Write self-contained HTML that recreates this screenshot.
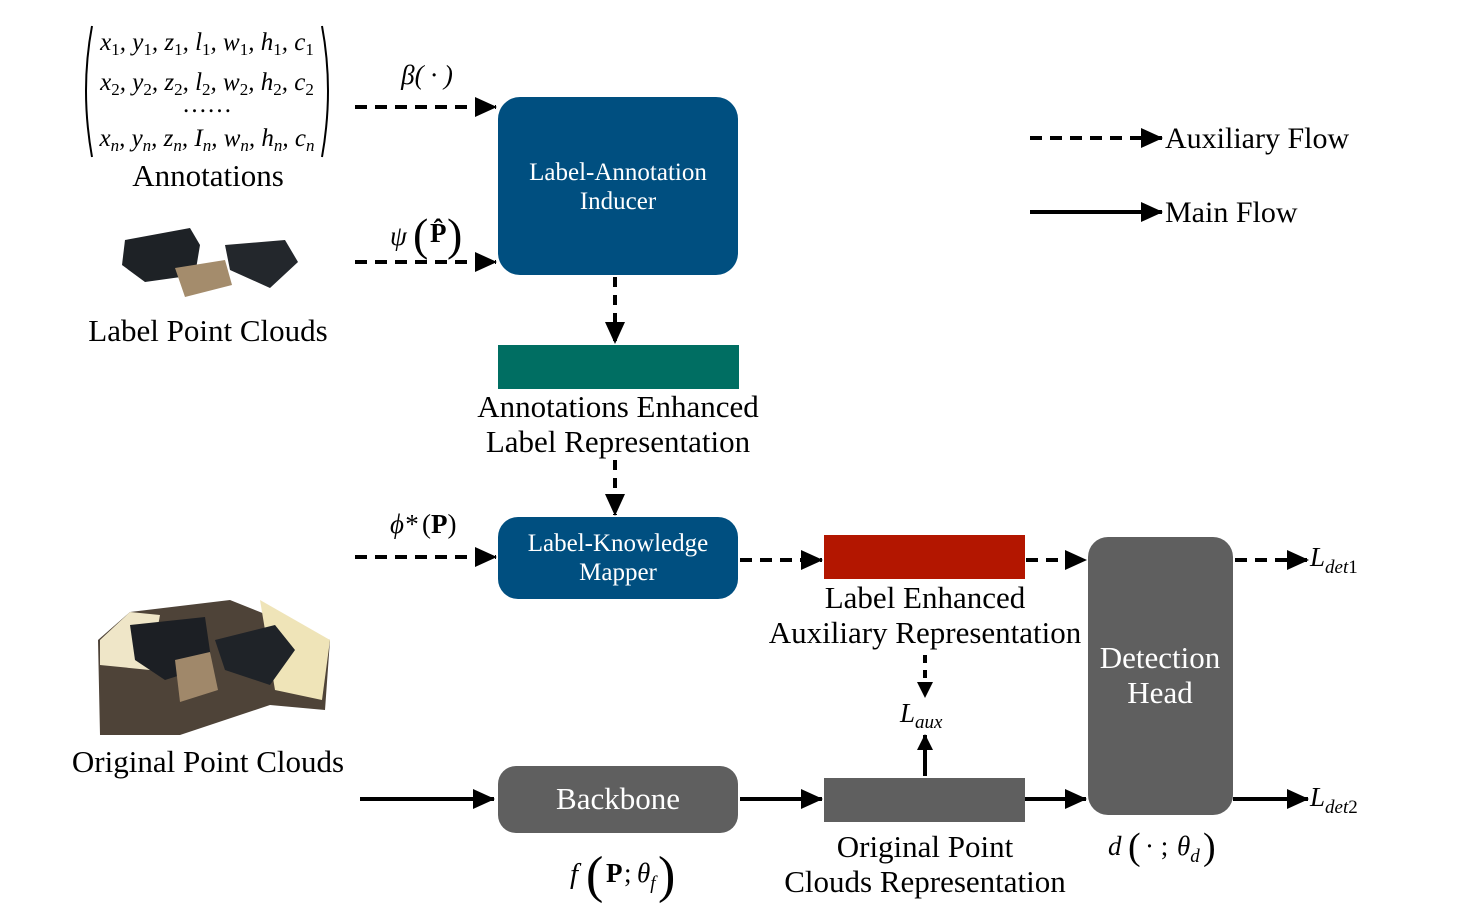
<!DOCTYPE html>
<html><head><meta charset="utf-8"><style>
html,body{margin:0;padding:0;background:#fff;}
svg{display:block;font-family:"Liberation Serif",serif;}
</style></head><body>
<svg width="1472" height="909" viewBox="0 0 1472 909" xmlns="http://www.w3.org/2000/svg">
<defs>
<marker id="ahb" markerWidth="22" markerHeight="20" refX="21" refY="10" orient="auto" markerUnits="userSpaceOnUse" viewBox="0 0 22 20">
<path d="M0,0 L22,10 L0,20 z" fill="#000"/></marker>
<marker id="ahs" markerWidth="16" markerHeight="16" refX="15" refY="8" orient="auto" markerUnits="userSpaceOnUse" viewBox="0 0 16 16">
<path d="M0,0 L16,8 L0,16 z" fill="#000"/></marker>
</defs>

<!-- Annotations matrix -->
<path d="M92,26 Q80,90 92,157" fill="none" stroke="#000" stroke-width="2"/>
<path d="M322,26 Q334,90 322,157" fill="none" stroke="#000" stroke-width="2"/>
<g font-style="italic" font-size="25" text-anchor="middle">
<text x="207" y="50">x<tspan font-size="17" dy="5" font-style="normal">1</tspan><tspan dy="-5">, y</tspan><tspan font-size="17" dy="5" font-style="normal">1</tspan><tspan dy="-5">, z</tspan><tspan font-size="17" dy="5" font-style="normal">1</tspan><tspan dy="-5">, l</tspan><tspan font-size="17" dy="5" font-style="normal">1</tspan><tspan dy="-5">, w</tspan><tspan font-size="17" dy="5" font-style="normal">1</tspan><tspan dy="-5">, h</tspan><tspan font-size="17" dy="5" font-style="normal">1</tspan><tspan dy="-5">, c</tspan><tspan font-size="17" dy="5" font-style="normal">1</tspan></text>
<text x="207" y="90">x<tspan font-size="17" dy="5" font-style="normal">2</tspan><tspan dy="-5">, y</tspan><tspan font-size="17" dy="5" font-style="normal">2</tspan><tspan dy="-5">, z</tspan><tspan font-size="17" dy="5" font-style="normal">2</tspan><tspan dy="-5">, l</tspan><tspan font-size="17" dy="5" font-style="normal">2</tspan><tspan dy="-5">, w</tspan><tspan font-size="17" dy="5" font-style="normal">2</tspan><tspan dy="-5">, h</tspan><tspan font-size="17" dy="5" font-style="normal">2</tspan><tspan dy="-5">, c</tspan><tspan font-size="17" dy="5" font-style="normal">2</tspan></text>
<text x="207" y="112" font-style="normal">……</text>
<text x="207" y="146">x<tspan font-size="17" dy="5">n</tspan><tspan dy="-5">, y</tspan><tspan font-size="17" dy="5">n</tspan><tspan dy="-5">, z</tspan><tspan font-size="17" dy="5">n</tspan><tspan dy="-5">, I</tspan><tspan font-size="17" dy="5">n</tspan><tspan dy="-5">, w</tspan><tspan font-size="17" dy="5">n</tspan><tspan dy="-5">, h</tspan><tspan font-size="17" dy="5">n</tspan><tspan dy="-5">, c</tspan><tspan font-size="17" dy="5">n</tspan></text>
</g>
<text x="208" y="186" font-size="31" text-anchor="middle">Annotations</text>

<!-- label point cloud (sketch) -->
<g>
<polygon points="125,240 190,228 200,245 195,275 145,282 122,265" fill="#1e2226"/>
<polygon points="225,245 285,240 298,262 270,288 230,270" fill="#23272c"/>
<polygon points="175,268 225,260 232,285 185,297" fill="#a48c6c"/>
</g>
<text x="208" y="341" font-size="31" text-anchor="middle">Label Point Clouds</text>

<!-- original point cloud (sketch) -->
<g>
<polygon points="98,640 130,612 230,600 330,640 325,710 270,705 180,735 100,735" fill="#4e4338"/>
<polygon points="100,640 130,612 160,615 150,670 100,665" fill="#efe6c8"/>
<polygon points="260,600 330,640 322,700 275,690" fill="#efe4b8"/>
<polygon points="130,625 205,617 212,665 165,680 135,660" fill="#1c1f24"/>
<polygon points="215,640 275,625 295,650 270,685 225,670" fill="#1f2328"/>
<polygon points="175,660 210,652 218,690 180,702" fill="#a0886a"/>
</g>
<text x="208" y="772" font-size="31" text-anchor="middle">Original Point Clouds</text>

<!-- Label-Annotation Inducer -->
<rect x="498" y="97" width="240" height="178" rx="22" fill="#004f80"/>
<text x="618" y="180" font-size="25" fill="#fff" text-anchor="middle">Label-Annotation</text>
<text x="618" y="209" font-size="25" fill="#fff" text-anchor="middle">Inducer</text>

<line x1="355" y1="107" x2="496" y2="107" stroke="#000" stroke-width="4" stroke-dasharray="12,8" marker-end="url(#ahb)"/>
<text x="427" y="84" font-size="27" font-style="italic" text-anchor="middle">β( · )</text>
<line x1="355" y1="262" x2="496" y2="262" stroke="#000" stroke-width="4" stroke-dasharray="12,8" marker-end="url(#ahb)"/>
<text x="390" y="245" font-size="27" font-style="italic">ψ</text>
<text x="413" y="250" font-size="46">(</text>
<text x="430" y="242" font-size="27" font-weight="bold">P̂</text>
<text x="447" y="250" font-size="46">)</text>

<line x1="615" y1="277" x2="615" y2="343" stroke="#000" stroke-width="4" stroke-dasharray="10,8" marker-end="url(#ahb)"/>

<rect x="498" y="345" width="241" height="44" fill="#006e62"/>
<text x="618" y="417" font-size="31" text-anchor="middle">Annotations Enhanced</text>
<text x="618" y="452" font-size="31" text-anchor="middle">Label Representation</text>

<line x1="615" y1="460" x2="615" y2="515" stroke="#000" stroke-width="4" stroke-dasharray="10,8" marker-end="url(#ahb)"/>

<rect x="498" y="517" width="240" height="82" rx="20" fill="#004f80"/>
<text x="618" y="551" font-size="25" fill="#fff" text-anchor="middle">Label-Knowledge</text>
<text x="618" y="580" font-size="25" fill="#fff" text-anchor="middle">Mapper</text>

<line x1="355" y1="557" x2="496" y2="557" stroke="#000" stroke-width="4" stroke-dasharray="12,8" marker-end="url(#ahb)"/>
<text x="390" y="533" font-size="27" font-style="italic">ϕ*</text>
<text x="422" y="533" font-size="27">(<tspan font-weight="bold">P</tspan>)</text>

<line x1="740" y1="560" x2="822" y2="560" stroke="#000" stroke-width="4" stroke-dasharray="12,8" marker-end="url(#ahb)"/>

<rect x="824" y="535" width="201" height="44" fill="#b31600"/>
<text x="925" y="608" font-size="31" text-anchor="middle">Label Enhanced</text>
<text x="925" y="643" font-size="31" text-anchor="middle">Auxiliary Representation</text>

<line x1="1026" y1="560" x2="1086" y2="560" stroke="#000" stroke-width="4" stroke-dasharray="12,8" marker-end="url(#ahb)"/>

<rect x="1088" y="537" width="145" height="278" rx="20" fill="#5f5f5f"/>
<text x="1160" y="668" font-size="31" fill="#fff" text-anchor="middle">Detection</text>
<text x="1160" y="703" font-size="31" fill="#fff" text-anchor="middle">Head</text>

<line x1="1235" y1="560" x2="1308" y2="560" stroke="#000" stroke-width="4" stroke-dasharray="12,8" marker-end="url(#ahb)"/>
<text x="1310" y="566" font-size="27" font-style="italic">L<tspan font-size="19" dy="7">det</tspan><tspan font-size="19" font-style="normal">1</tspan></text>
<line x1="1233" y1="799" x2="1308" y2="799" stroke="#000" stroke-width="4" marker-end="url(#ahb)"/>
<text x="1310" y="806" font-size="27" font-style="italic">L<tspan font-size="19" dy="7">det</tspan><tspan font-size="19" font-style="normal">2</tspan></text>

<text x="1108" y="855" font-size="27" font-style="italic">d</text>
<text x="1128" y="859" font-size="38">(</text>
<text x="1145" y="855" font-size="27"> · ;</text>
<text x="1177" y="855" font-size="27" font-style="italic">θ<tspan font-size="19" dy="7">d</tspan></text>
<text x="1203" y="859" font-size="38">)</text>

<line x1="925" y1="655" x2="925" y2="697" stroke="#000" stroke-width="4" stroke-dasharray="8,7" marker-end="url(#ahs)"/>
<text x="900" y="722" font-size="27" font-style="italic">L<tspan font-size="19" dy="6">aux</tspan></text>
<line x1="925" y1="776" x2="925" y2="735" stroke="#000" stroke-width="4" marker-end="url(#ahs)"/>

<line x1="360" y1="799" x2="494" y2="799" stroke="#000" stroke-width="4" marker-end="url(#ahb)"/>
<rect x="498" y="766" width="240" height="67" rx="18" fill="#5f5f5f"/>
<text x="618" y="809" font-size="31" fill="#fff" text-anchor="middle">Backbone</text>
<text x="570" y="883" font-size="29" font-style="italic">f</text>
<text x="586" y="892" font-size="52">(</text>
<text x="606" y="882" font-size="27" font-weight="bold">P</text>
<text x="624" y="882" font-size="27">;</text>
<text x="637" y="882" font-size="27" font-style="italic">θ<tspan font-size="19" dy="7">f</tspan></text>
<text x="658" y="892" font-size="52">)</text>

<line x1="740" y1="799" x2="822" y2="799" stroke="#000" stroke-width="4" marker-end="url(#ahb)"/>
<rect x="824" y="778" width="201" height="44" fill="#5f5f5f"/>
<text x="925" y="857" font-size="31" text-anchor="middle">Original Point</text>
<text x="925" y="892" font-size="31" text-anchor="middle">Clouds Representation</text>
<line x1="1025" y1="799" x2="1086" y2="799" stroke="#000" stroke-width="4" marker-end="url(#ahb)"/>

<line x1="1030" y1="138" x2="1162" y2="138" stroke="#000" stroke-width="4" stroke-dasharray="12,8" marker-end="url(#ahb)"/>
<text x="1165" y="148" font-size="30">Auxiliary Flow</text>
<line x1="1030" y1="212" x2="1162" y2="212" stroke="#000" stroke-width="4" marker-end="url(#ahb)"/>
<text x="1165" y="222" font-size="30">Main Flow</text>
</svg>
</body></html>
